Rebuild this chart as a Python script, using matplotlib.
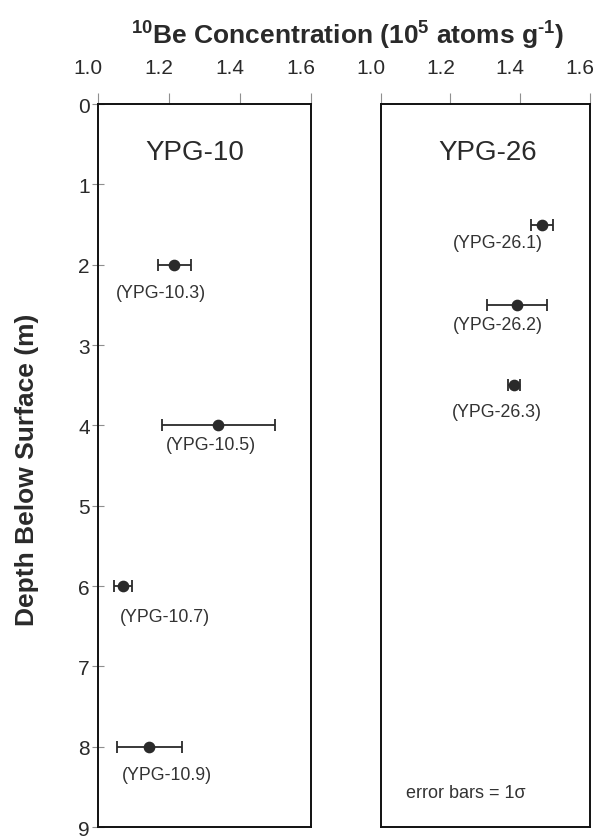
import matplotlib
matplotlib.use("Agg")
import matplotlib.pyplot as plt
from matplotlib.transforms import ScaledTranslation

plt.rcParams["font.family"] = ["Liberation Sans", "DejaVu Sans"]
plt.rcParams["mathtext.fontset"] = "custom"
plt.rcParams["mathtext.rm"] = "Liberation Sans:bold"
plt.rcParams["mathtext.it"] = "Liberation Sans:bold"
plt.rcParams["mathtext.bf"] = "Liberation Sans:bold"

# --- data -----------------------------------------------------------------
# core YPG-10
ypg10_names = ["(YPG-10.3)", "(YPG-10.5)", "(YPG-10.7)", "(YPG-10.9)"]
ypg10_depth = [2.0, 4.0, 6.0, 8.0]
ypg10_conc = [1.215, 1.339, 1.070, 1.145]
ypg10_err = [0.047, 0.159, 0.025, 0.091]

# core YPG-26
ypg26_names = ["(YPG-26.1)", "(YPG-26.2)", "(YPG-26.3)"]
ypg26_depth = [1.5, 2.5, 3.5]
ypg26_conc = [1.463, 1.390, 1.382]
ypg26_err = [0.031, 0.086, 0.018]

x_ticks = [1.0, 1.2, 1.4, 1.6]
depth_ticks = list(range(0, 10))

# label centre offsets in points (dx, dy) from each point
ypg10_offsets = [(-9.4, -20), (-5.6, -14), (30, -22.3), (12.5, -20)]
ypg26_offsets = [(-31.7, -13.2), (-13.5, -14.2), (-12.2, -19)]

INK = "#2a2a2a"
TICK = "#8f8f8f"


def draw_core(ax, name, name_x, depth, conc, err, labels, offsets):
    ax.errorbar(conc, depth, xerr=err, fmt="o", color=INK, ecolor=INK,
                markersize=7.4, elinewidth=1.3, capsize=4.3, capthick=1.3)
    for x, y, lab, off in zip(conc, depth, labels, offsets):
        ax.annotate(lab, (x, y), xytext=off, textcoords="offset points",
                    fontsize=12.8, color="#333333", ha="center", va="center")
    ax.text(name_x, 0.933, name, transform=ax.transAxes, ha="center",
            va="center", fontsize=20, color=INK)
    ax.set_xlim(1.0, 1.6)
    ax.set_ylim(9, 0)
    ax.xaxis.tick_top()
    ax.set_xticks(x_ticks)
    ax.set_xticklabels([f"{t:.1f}" for t in x_ticks], fontsize=15, color=INK)
    ax.tick_params(axis="x", direction="out", length=8, width=0.8,
                   color=TICK, pad=11.5)
    shift = ScaledTranslation(-0.1, 0, ax.figure.dpi_scale_trans)
    for lab in ax.get_xticklabels():
        lab.set_transform(lab.get_transform() + shift)
    for s in ax.spines.values():
        s.set_linewidth(1.4)
        s.set_color("#111111")


fig = plt.figure(figsize=(5.94, 8.37), dpi=100)
ax1 = fig.add_axes([0.165, 0.01075, 0.3586, 0.8638])
ax2 = fig.add_axes([0.6406, 0.01075, 0.3527, 0.8638])

draw_core(ax1, "YPG-10", 0.453, ypg10_depth, ypg10_conc, ypg10_err,
          ypg10_names, ypg10_offsets)
draw_core(ax2, "YPG-26", 0.512, ypg26_depth, ypg26_conc, ypg26_err,
          ypg26_names, ypg26_offsets)

ax1.set_yticks(depth_ticks)
ax1.set_yticklabels([str(d) for d in depth_ticks], fontsize=15, color=INK)
ax1.tick_params(axis="y", direction="inout", length=8, width=0.8,
                color=TICK, pad=2)
ax1.set_ylabel("Depth Below Surface (m)", fontsize=19, fontweight="bold",
               color=INK)
ax1.yaxis.set_label_coords(39 / 594, (837 - 470) / 837,
                           transform=fig.transFigure)

ax2.set_yticks([])

ax2.text(0.122, 0.048, "error bars = 1σ", transform=ax2.transAxes,
         fontsize=13, color="#333333", va="center")

fig.text(348 / 594, (837 - 45) / 837,
         r"$^{10}$Be Concentration (10$^{5}$ atoms g$^{\text{-1}}$)",
         ha="center", va="baseline", fontsize=19, fontweight="bold", color=INK)

fig.savefig("out.png", dpi=100)
plt.close(fig)
